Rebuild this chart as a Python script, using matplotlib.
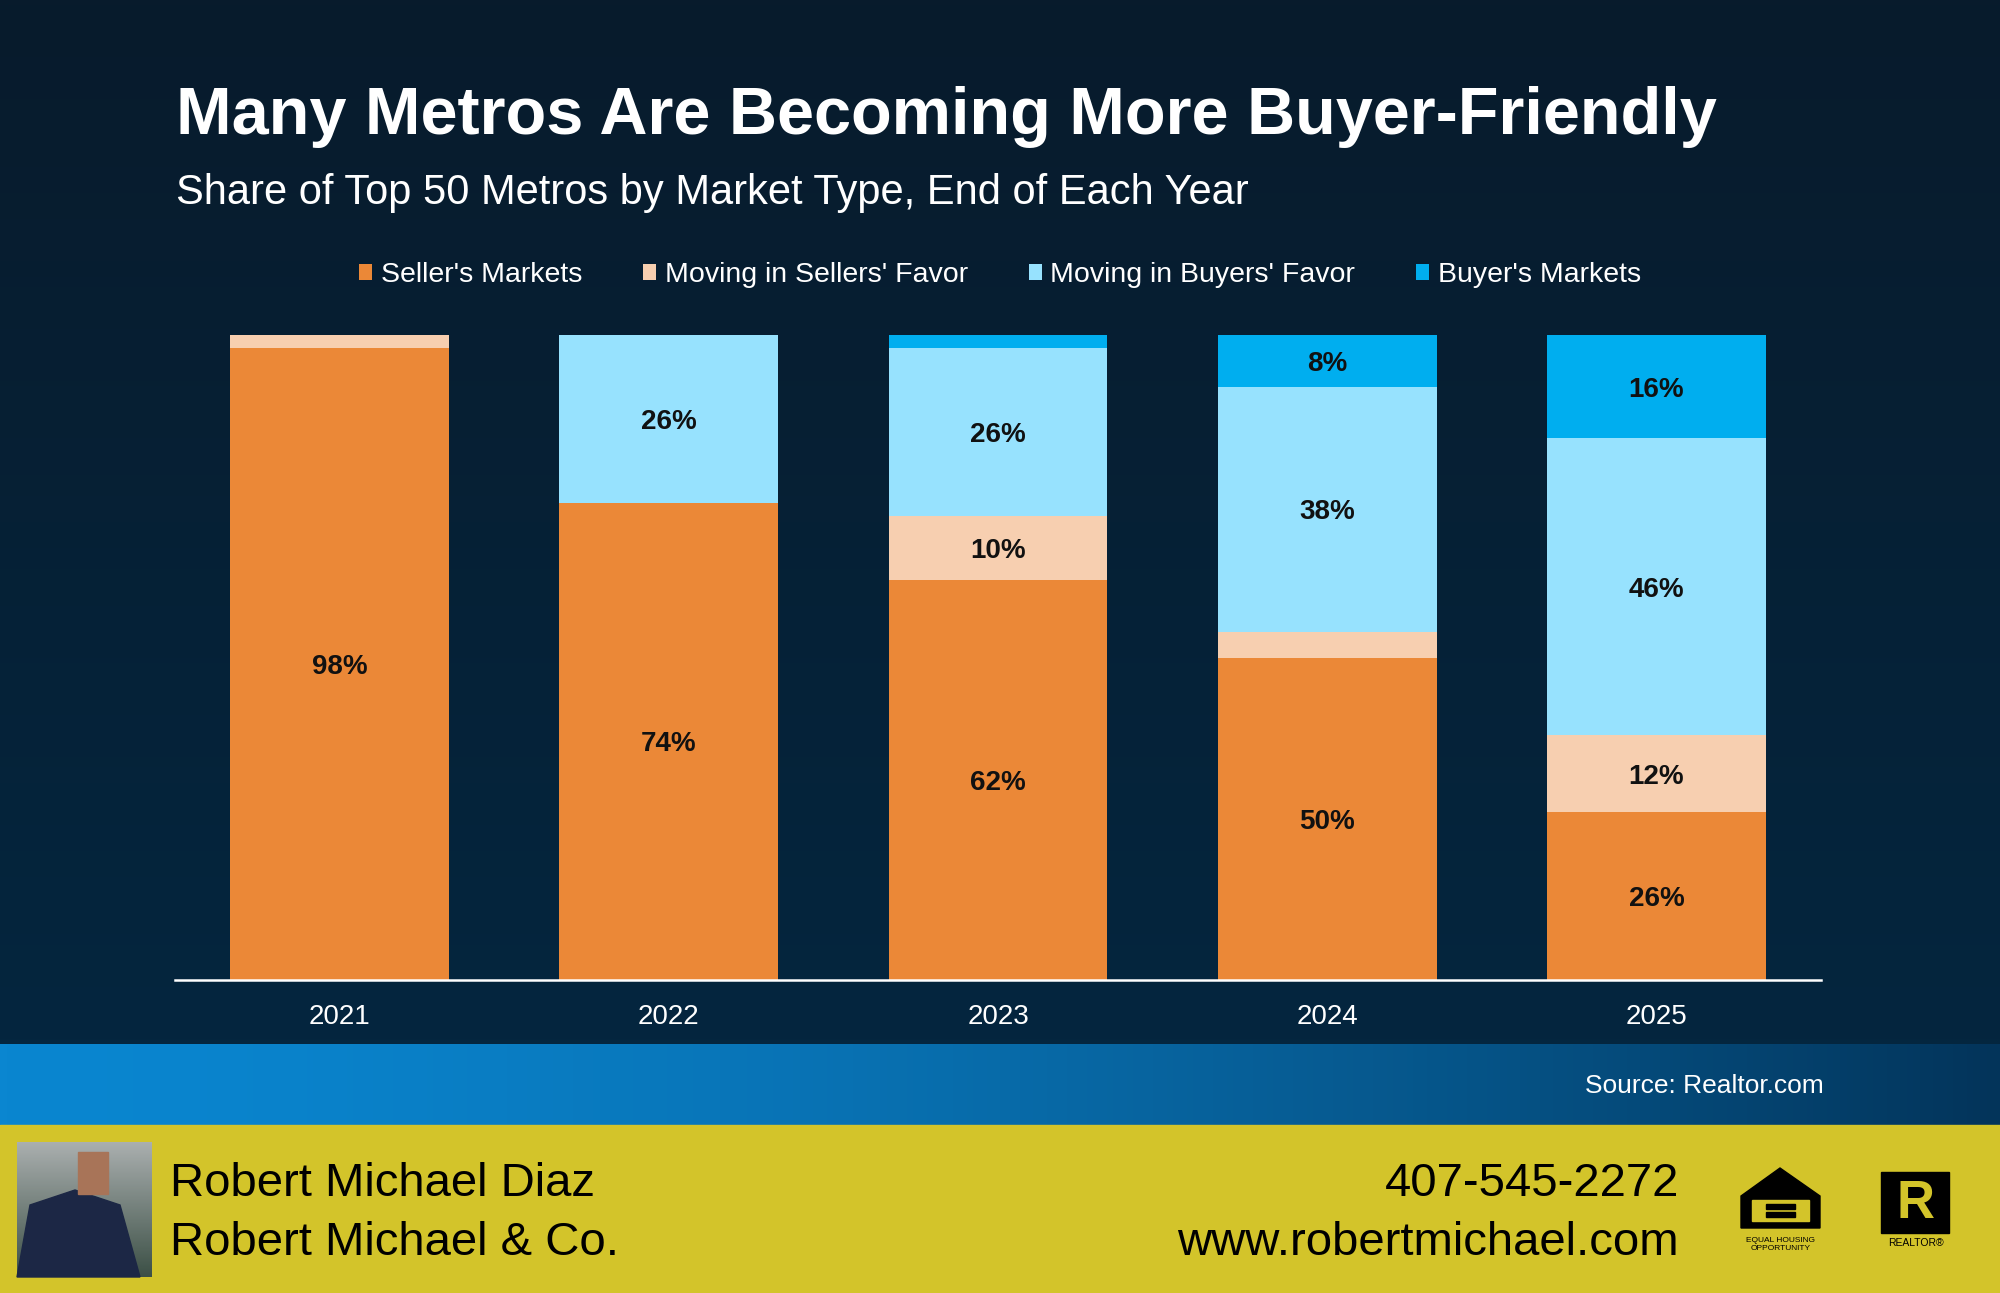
import matplotlib
matplotlib.use('Agg')
import matplotlib.pyplot as plt
from matplotlib.patches import Rectangle, Polygon
import numpy as np

# datos
years = ['2021', '2022', '2023', '2024', '2025']
sellers_markets = [98, 74, 62, 50, 26]
moving_sellers = [2, 0, 10, 4, 12]
moving_buyers = [0, 26, 26, 38, 46]
buyers_markets = [0, 0, 2, 8, 16]
series_names = ["Seller's Markets", "Moving in Sellers' Favor",
                "Moving in Buyers' Favor", "Buyer's Markets"]
series_colors = ['#eb8837', '#f7cfb0', '#97e2fe', '#00aeef']

plt.rcParams['font.family'] = ['Liberation Sans', 'DejaVu Sans']

W, H = 2000, 1293
fig = plt.figure(figsize=(W / 100, H / 100), dpi=100)

# fondo en coordenadas de pixel
bg = fig.add_axes([0, 0, 1, 1], zorder=-1)
bg.set_xlim(0, W)
bg.set_ylim(H, 0)
bg.axis('off')

# degradado oscuro de arriba
top = np.array([8, 27, 44]) / 255
mid = np.array([4, 38, 63]) / 255
t = np.linspace(0, 1, 200)[:, None]
grad = top + (mid - top) * t
bg.imshow(grad[:, None, :].repeat(2, axis=1), extent=[0, W, 1044, 0], aspect='auto')

# franja azul
left_c = np.array([10, 134, 208]) / 255
right_c = np.array([3, 52, 90]) / 255
s = np.linspace(0, 1, 300)
band = left_c + (right_c - left_c) * (s ** 1.6)[:, None]
bg.imshow(band[None, :, :].repeat(2, axis=0), extent=[0, W, 1125, 1044], aspect='auto')

# pie amarillo
bg.add_patch(Rectangle((0, 1125), W, H - 1125, color='#d3c42a'))

# foto (marcador simple)
photo = np.linspace(0, 1, 100)[:, None]
c1 = np.array([170, 175, 175]) / 255
c2 = np.array([60, 80, 70]) / 255
pc = c1 + (c2 - c1) * photo
bg.imshow(pc[:, None, :].repeat(2, axis=1), extent=[17, 152, 1277, 1142], aspect='auto', zorder=3)
bg.add_patch(Polygon([(17, 1277), (30, 1205), (75, 1190), (120, 1205), (140, 1277)],
                     color='#1c2745', zorder=4))
bg.add_patch(Rectangle((78, 1152), 30, 42, color='#a87458', zorder=4))

bg.text(176, 134, 'Many Metros Are Becoming More Buyer-Friendly', color='white',
        fontsize=48, fontweight='bold', va='baseline')
bg.text(176, 204, 'Share of Top 50 Metros by Market Type, End of Each Year', color='white',
        fontsize=30, va='baseline')
bg.text(1824, 1093, 'Source: Realtor.com', color='white', fontsize=19, ha='right', va='baseline')

bg.text(170, 1196, 'Robert Michael Diaz', color='black', fontsize=34, va='baseline')
bg.text(170, 1255, 'Robert Michael & Co.', color='black', fontsize=34, va='baseline')
bg.text(1679, 1196, '407-545-2272', color='black', fontsize=34, va='baseline', ha='right')
bg.text(1679, 1255, 'www.robertmichael.com', color='black', fontsize=34, va='baseline', ha='right')

# logo equal housing
bg.add_patch(Polygon([(1741, 1228), (1741, 1196), (1780, 1168), (1820, 1196), (1820, 1228)],
                     color='black'))
bg.add_patch(Rectangle((1752, 1200), 57, 21, color='#d3c42a'))
bg.add_patch(Rectangle((1766, 1204), 29, 5, color='black'))
bg.add_patch(Rectangle((1766, 1212), 29, 5, color='black'))
bg.text(1781, 1240, 'EQUAL HOUSING', fontsize=6, ha='center', va='center', color='black')
bg.text(1781, 1248, 'OPPORTUNITY', fontsize=6, ha='center', va='center', color='black')

# logo realtor
bg.add_patch(Rectangle((1881, 1172), 68, 61, color='black'))
bg.text(1915, 1204, 'R', fontsize=38, fontweight='bold', ha='center', va='center', color='#d3c42a')
bg.text(1916, 1243, 'REALTOR\u00ae', fontsize=7.5, ha='center', va='center', color='black')

# grafica de barras apiladas
ax = fig.add_axes([175 / W, 1 - 980 / H, 1646 / W, 645 / H])
ax.set_facecolor('none')
x = np.arange(len(years))
series = [sellers_markets, moving_sellers, moving_buyers, buyers_markets]
bottom = np.zeros(len(years))
for vals, name, col in zip(series, series_names, series_colors):
    vals = np.array(vals, dtype=float)
    ax.bar(x, vals, 0.665, bottom=bottom, color=col, label=name, linewidth=0)
    for xi, v, b in zip(x, vals, bottom):
        if v >= 5:
            ax.text(xi, b + v / 2, f'{int(v)}%', ha='center', va='center_baseline',
                    fontsize=20, fontweight='bold', color='#111111')
    bottom += vals

ax.set_xlim(-0.5, 4.5)
ax.set_ylim(0, 100)
ax.set_xticks(x)
ax.set_xticklabels(years, color='white', fontsize=20)
ax.tick_params(axis='x', length=0, pad=17)
ax.set_yticks([])
for sp in ['top', 'left', 'right']:
    ax.spines[sp].set_visible(False)
ax.spines['bottom'].set_color('white')
ax.spines['bottom'].set_linewidth(1.8)

leg = fig.legend(loc='center', bbox_to_anchor=(0.5, 1 - 275 / H), ncol=4, frameon=False,
                 fontsize=20.5, handlelength=0.45, handleheight=0.45, handletextpad=0.3,
                 columnspacing=2.15)
for txt in leg.get_texts():
    txt.set_color('white')

plt.savefig('out.png', dpi=100)
plt.close()
